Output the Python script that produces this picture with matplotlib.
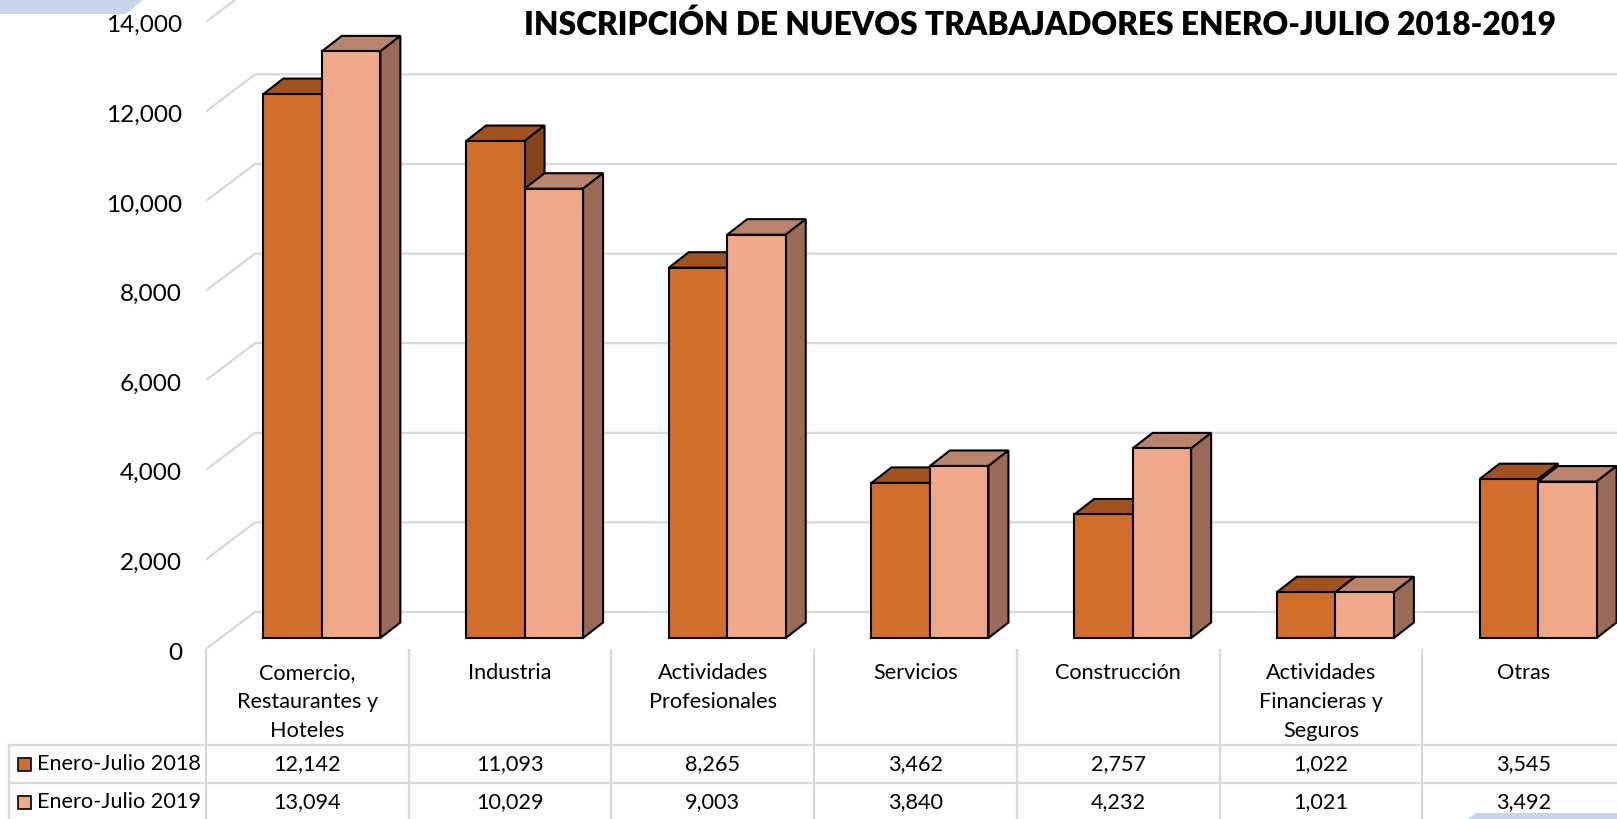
import matplotlib.pyplot as plt
from matplotlib.patches import Polygon, Rectangle
import numpy as np

cats = ["Comercio,\nRestaurantes y\nHoteles", "Industria", "Actividades\nProfesionales",
        "Servicios", "Construcción", "Actividades\nFinancieras y\nSeguros", "Otras"]
series = ["Enero-Julio 2018", "Enero-Julio 2019"]
v2018 = [12142, 11093, 8265, 3462, 2757, 1022, 3545]
v2019 = [13094, 10029, 9003, 3840, 4232, 1021, 3492]
yticks = [0, 2000, 4000, 6000, 8000, 10000, 12000, 14000]
title = "INSCRIPCIÓN DE NUEVOS TRABAJADORES ENERO-JULIO 2018-2019"

plt.rcParams['font.family'] = ['Lato', 'DejaVu Sans']

W, H = 1617, 819
fig = plt.figure(figsize=(W / 100, H / 100), dpi=100)

# pixel scales of the plot area
col_px = 202.7          # one category in pixels
val_px = 0.0448         # pixels per unit of value
kx = 1 / col_px
ky = 1 / val_px
floor_px = 649          # front edge of the floor (from top)
x0_px = 206             # left edge of the plot

ax = fig.add_axes([x0_px / W, (H - floor_px) / H, (W - x0_px) / W, floor_px / H])
ax.set_xlim(-0.5, -0.5 + (W - x0_px) * kx)
ax.set_ylim(-11 * ky, (floor_px - 11) * ky)
ax.axis('off')

grid_c = '#D9D9D9'
xr = ax.get_xlim()[1]
for v in yticks:
    xs = [-0.5, -0.5 + 49 * kx, xr]
    ys = [v - 11 * ky, v + 26 * ky, v + 26 * ky]
    ax.plot(xs, ys, color=grid_c, lw=1.6, zorder=1, solid_capstyle='butt')
    ax.text(-0.5 - 24 * kx, v - 15 * ky, f"{v:,}", ha='right', va='center',
            fontsize=17.6, color='black', clip_on=False)

# bars with a fake depth
x = np.arange(len(cats))
off = 14.5 * kx
bw = 58.5 * kx
ddx, ddy = 20 * kx, 15.5 * ky
cols = [('#D26E2B', '#A1531F', '#87441A'), ('#F0A88B', '#B9836C', '#9C6B58')]
for s, vals in enumerate([v2018, v2019]):
    front, top, side = cols[s]
    left = x + off - bw + s * bw
    z = 3 + 2 * s
    ax.bar(left, vals, width=bw, align='edge', color=front, edgecolor='black',
           lw=1.5, zorder=z + 1)
    for xl, v in zip(left, vals):
        xrr = xl + bw
        ax.add_patch(Polygon([(xl, v), (xl + ddx, v + ddy), (xrr + ddx, v + ddy), (xrr, v)],
                             closed=True, fc=top, ec='black', lw=1.5, zorder=z))
        ax.add_patch(Polygon([(xrr, 0), (xrr + ddx, ddy), (xrr + ddx, v + ddy), (xrr, v)],
                             closed=True, fc=side, ec='black', lw=1.5, zorder=z))

ax.text(-0.5 + (1040 - x0_px) * kx, (floor_px - 11 - 25) * ky, title, ha='center',
        va='center', fontsize=22.8, fontweight='heavy', clip_on=False)

# data table under the chart
tab = fig.add_axes([0, 0, 1, (H - floor_px) / H])
tab.set_xlim(-0.5 - x0_px * kx, -0.5 + (W - x0_px) * kx)
tab.set_ylim(H - floor_px, 0)
tab.axis('off')
r1, r2 = 96, 134
for b in np.arange(-0.5, len(cats), 1.0):
    tab.plot([b, b], [0, H], color=grid_c, lw=1.6)
lx = -0.5 - (x0_px - 9) * kx
tab.plot([lx, lx], [r1, H], color=grid_c, lw=1.6)
for r in (r1, r2):
    tab.plot([lx, xr], [r, r], color=grid_c, lw=1.6)

for i, c in enumerate(cats):
    for k, line in enumerate(c.split('\n')):
        tab.text(i, 24 + 29 * k, line, ha='center', va='center', fontsize=15.6)
for r, vals in zip((r1, r2), (v2018, v2019)):
    for i, v in enumerate(vals):
        tab.text(i, r + 19, f"{v:,}", ha='center', va='center', fontsize=15.6)

for s, (r, name) in enumerate(zip((r1, r2), series)):
    sx = -0.5 - (x0_px - 18) * kx
    tab.add_patch(Rectangle((sx, r + 12.5), 13 * kx, 13, fc=cols[s][0], ec='black', lw=1.2))
    tab.text(-0.5 - (x0_px - 37) * kx, r + 19, name, ha='left', va='center', fontsize=15.6)

# light blue page decorations
def fp(px, py):
    return (px / W, 1 - py / H)

fig.add_artist(Polygon([fp(0, 0), fp(143, 0), fp(126, 14), fp(0, 14)], closed=True,
                       transform=fig.transFigure, fc='#C9D5EA', ec='none'))
fig.add_artist(Polygon([fp(1468, 819), fp(1476, 813), fp(1617, 813), fp(1617, 819)],
                       closed=True, transform=fig.transFigure, fc='#C9D5EA', ec='none'))

fig.savefig('out.png', dpi=100)
